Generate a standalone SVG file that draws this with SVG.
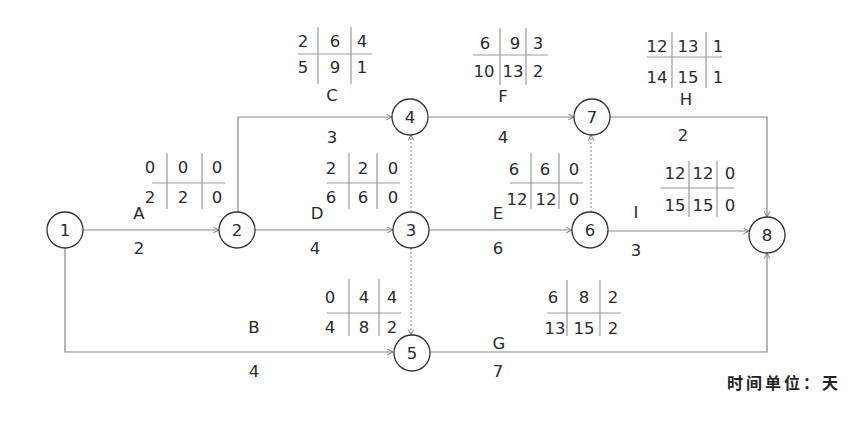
<svg xmlns="http://www.w3.org/2000/svg" width="861" height="423" viewBox="0 0 861 423">
<style>
.n{fill:#fff;stroke:#333;stroke-width:1.3}
.nt{font-family:"DejaVu Sans",sans-serif;font-size:16.5px;fill:#2a2a2a;text-anchor:middle}
.e{fill:none;stroke:#888;stroke-width:1.2}
.d{fill:none;stroke:#888;stroke-width:1;stroke-dasharray:2,2}
.g{fill:none;stroke:#999;stroke-width:1.2}
.t{font-family:"DejaVu Sans",sans-serif;font-size:16.5px;fill:#2a2a2a;text-anchor:middle}
.u{font-family:"Noto Sans CJK SC",sans-serif;font-size:16px;font-weight:bold;fill:#222}
</style>
<defs>
<marker id="ar" viewBox="0 0 10 10" refX="9" refY="5" markerWidth="7" markerHeight="7" markerUnits="userSpaceOnUse" orient="auto">
<path d="M1,1 L9,5 L1,9" fill="none" stroke="#777" stroke-width="1.4"/>
</marker>
</defs>
<rect width="861" height="423" fill="#fff"/>
<g id="connectors">
<path class="e" d="M83,230 H219" marker-end="url(#ar)"/>
<path class="e" d="M65,248 V352 H393" marker-end="url(#ar)"/>
<path class="e" d="M238,212 V117 H392" marker-end="url(#ar)"/>
<path class="e" d="M255,230 H393" marker-end="url(#ar)"/>
<path class="e" d="M429,117 H574" marker-end="url(#ar)"/>
<path class="e" d="M429,230 H572" marker-end="url(#ar)"/>
<path class="e" d="M610,117 H767 V217" marker-end="url(#ar)"/>
<path class="e" d="M608,231 H749" marker-end="url(#ar)"/>
<path class="e" d="M430,352 H767 V253" marker-end="url(#ar)"/>
<path class="d" d="M411,212 V135" marker-end="url(#ar)"/>
<path class="d" d="M411,248 V335" marker-end="url(#ar)"/>
<path class="d" d="M591,212 V135" marker-end="url(#ar)"/>
</g>
<g id="node1"><circle class="n" cx="65" cy="230" r="18"/><text class="nt" x="65" y="236">1</text></g>
<g id="node2"><circle class="n" cx="237" cy="230" r="18"/><text class="nt" x="237" y="236">2</text></g>
<g id="node3"><circle class="n" cx="411" cy="230" r="18"/><text class="nt" x="411" y="236">3</text></g>
<g id="node4"><circle class="n" cx="410" cy="117" r="18"/><text class="nt" x="410" y="123">4</text></g>
<g id="node5"><circle class="n" cx="412" cy="353" r="18"/><text class="nt" x="412" y="359">5</text></g>
<g id="node6"><circle class="n" cx="590" cy="230" r="18"/><text class="nt" x="590" y="236">6</text></g>
<g id="node7"><circle class="n" cx="592" cy="117" r="18"/><text class="nt" x="592" y="123">7</text></g>
<g id="node8"><circle class="n" cx="767" cy="235" r="18"/><text class="nt" x="767" y="241">8</text></g>
<g id="tableA">
<path class="g" d="M167,153 V209 M202,153 V209 M152,183 H225"/>
<text class="t" x="150" y="173">0</text><text class="t" x="183" y="173">0</text><text class="t" x="217" y="173">0</text>
<text class="t" x="150" y="203">2</text><text class="t" x="183" y="203">2</text><text class="t" x="217" y="203">0</text>
</g>
<g id="tableC">
<path class="g" d="M318,27 V84 M351,27 V84 M298,54 H372"/>
<text class="t" x="303" y="47">2</text><text class="t" x="335" y="47">6</text><text class="t" x="362" y="47">4</text>
<text class="t" x="303" y="73">5</text><text class="t" x="335" y="73">9</text><text class="t" x="362" y="73">1</text>
</g>
<g id="tableF">
<path class="g" d="M500,28 V85 M526,28 V85 M473,55 H548"/>
<text class="t" x="485" y="49">6</text><text class="t" x="515" y="49">9</text><text class="t" x="538" y="49">3</text>
<text class="t" x="484" y="77">10</text><text class="t" x="513" y="77">13</text><text class="t" x="538" y="77">2</text>
</g>
<g id="tableH">
<path class="g" d="M672,32 V88 M706,32 V88 M647,57 H722"/>
<text class="t" x="657" y="52">12</text><text class="t" x="688" y="52">13</text><text class="t" x="718" y="52">1</text>
<text class="t" x="657" y="83">14</text><text class="t" x="688" y="83">15</text><text class="t" x="718" y="83">1</text>
</g>
<g id="tableD">
<path class="g" d="M349,153 V209 M377,153 V209 M327,183 H400"/>
<text class="t" x="331" y="174">2</text><text class="t" x="363" y="174">2</text><text class="t" x="393" y="174">0</text>
<text class="t" x="331" y="203">6</text><text class="t" x="363" y="203">6</text><text class="t" x="393" y="203">0</text>
</g>
<g id="tableE">
<path class="g" d="M531,153 V209 M559,153 V209 M510,183 H583"/>
<text class="t" x="514" y="175">6</text><text class="t" x="545" y="175">6</text><text class="t" x="574" y="175">0</text>
<text class="t" x="517" y="205">12</text><text class="t" x="546" y="205">12</text><text class="t" x="574" y="205">0</text>
</g>
<g id="tableI">
<path class="g" d="M689,161 V217 M717,161 V217 M660,188 H734"/>
<text class="t" x="675" y="179">12</text><text class="t" x="703" y="179">12</text><text class="t" x="730" y="179">0</text>
<text class="t" x="675" y="211">15</text><text class="t" x="703" y="211">15</text><text class="t" x="730" y="211">0</text>
</g>
<g id="tableB">
<path class="g" d="M349,279 V336 M379,279 V336 M327,313 H401"/>
<text class="t" x="330" y="303">0</text><text class="t" x="364" y="303">4</text><text class="t" x="392" y="303">4</text>
<text class="t" x="330" y="333">4</text><text class="t" x="364" y="333">8</text><text class="t" x="392" y="333">2</text>
</g>
<g id="tableG">
<path class="g" d="M567,280 V336 M600,280 V336 M547,313 H621"/>
<text class="t" x="553" y="303">6</text><text class="t" x="584" y="303">8</text><text class="t" x="613" y="303">2</text>
<text class="t" x="555" y="334">13</text><text class="t" x="584" y="334">15</text><text class="t" x="613" y="334">2</text>
</g>
<g id="labels">
<text class="t" x="139" y="219">A</text><text class="t" x="139" y="254">2</text>
<text class="t" x="254" y="333">B</text><text class="t" x="254" y="377">4</text>
<text class="t" x="332" y="101">C</text><text class="t" x="332" y="143">3</text>
<text class="t" x="317" y="219">D</text><text class="t" x="315" y="254">4</text>
<text class="t" x="498" y="219">E</text><text class="t" x="498" y="254">6</text>
<text class="t" x="503" y="102">F</text><text class="t" x="503" y="143">4</text>
<text class="t" x="499" y="349">G</text><text class="t" x="498" y="377">7</text>
<text class="t" x="686" y="105">H</text><text class="t" x="683" y="141">2</text>
<text class="t" x="636" y="218">I</text><text class="t" x="636" y="256">3</text>
</g>
<g id="unit"><text class="u" x="727" y="389" textLength="111">时间单位：天</text></g>
</svg>
